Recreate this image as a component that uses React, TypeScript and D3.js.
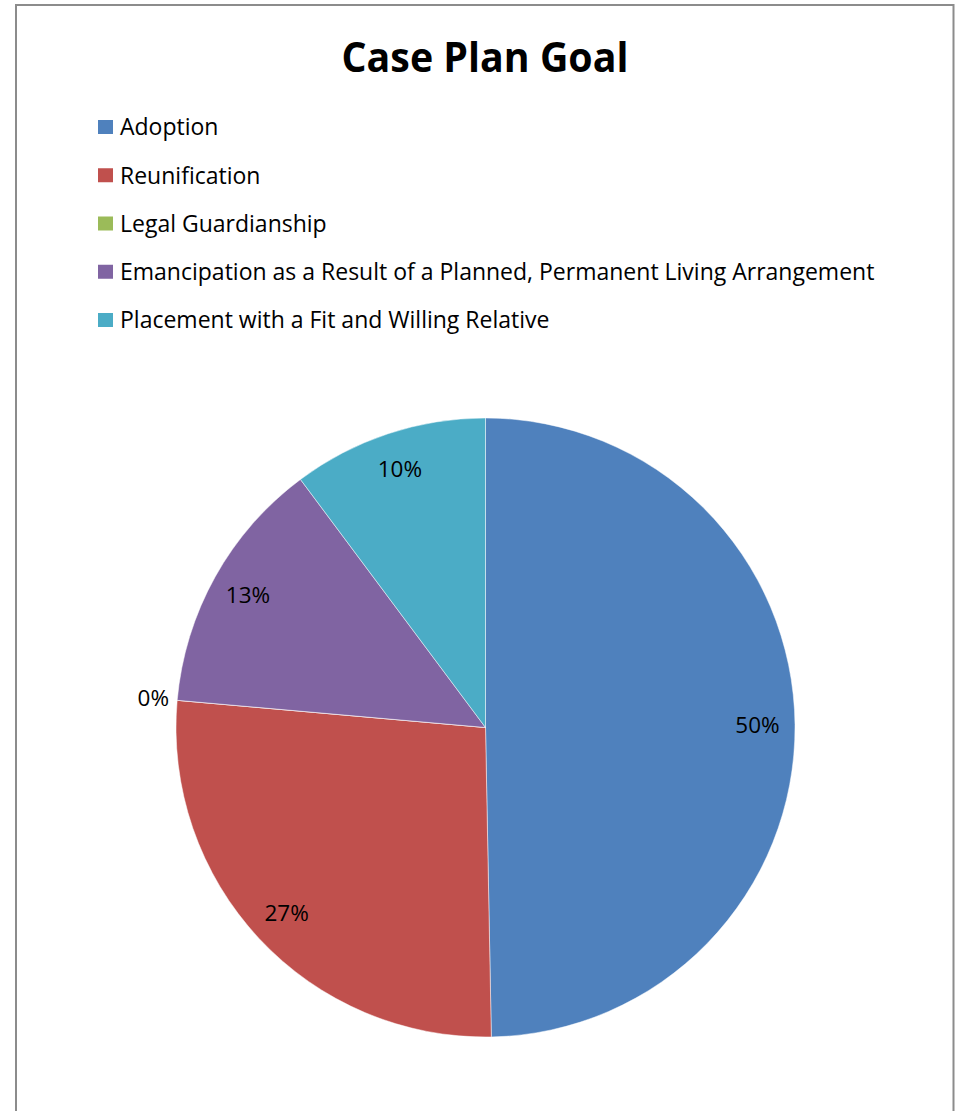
import React from "react";
import * as d3 from "d3";

const title = "Case Plan Goal";
const categories = [
  "Adoption",
  "Reunification",
  "Legal Guardianship",
  "Emancipation as a Result of a Planned, Permanent Living Arrangement",
  "Placement with a Fit and Willing Relative",
];
const shares = [49.7, 26.7, 0, 13.4, 10.2];
const colors = ["#4F81BD", "#C0504D", "#9BBB59", "#8064A2", "#4BACC6"];

const W = 959;
const H = 1111;
const FONT = "'Open Sans', 'Noto Sans', sans-serif";

export default function App() {
  const cx = 485.5;
  const cy = 727.5;
  const R = 309.5;
  const data = categories.map((c, i) => ({ name: c, value: shares[i], color: colors[i] }));
  const total = d3.sum(shares);
  const pie = d3.pie<any>().sort(null).value((d: any) => d.value);
  const arcs = pie(data);
  const arc = d3.arc<any>().innerRadius(0).outerRadius(R);
  const labelArc = d3.arc<any>().innerRadius(272).outerRadius(272);
  const outerLabelArc = d3.arc<any>().innerRadius(R + 24).outerRadius(R + 24);
  const fmt = (v: number) => `${Math.round((v / total) * 100)}%`;

  const legendY = d3.scalePoint<string>().domain(categories).range([127, 320]);

  return (
    <svg
      width={W}
      height={H}
      viewBox={`0 0 ${W} ${H}`}
      style={{ position: "absolute", left: 0, top: 0, display: "block", background: "#fff" }}
    >
      <rect x={0} y={0} width={W} height={H} fill="#fff" />
      <path d={`M16,${H + 5} V5 H953.5 V${H + 5}`} fill="none" stroke="#8c8c8c" strokeWidth={2} />
      <text
        x={485}
        y={72}
        textAnchor="middle"
        fontFamily={FONT}
        fontWeight={700}
        fontSize={41}
        textLength={287}
        lengthAdjust="spacingAndGlyphs"
        fill="#000"
      >
        {title}
      </text>
      <g>
        {categories.map((c, i) => (
          <g key={c} transform={`translate(0,${legendY(c)})`}>
            <rect x={98} y={-7} width={15} height={14} fill={colors[i]} />
            <text x={120} y={0} dy="0.36em" fontFamily={FONT} fontSize={23} fill="#000">
              {c}
            </text>
          </g>
        ))}
      </g>
      <g transform={`translate(${cx},${cy})`}>
        {arcs.map((a, i) => (
          <path key={i} d={arc(a) || ""} fill={a.data.color} stroke="#fff" strokeWidth={0.6} strokeOpacity={0.8} />
        ))}
        {arcs.map((a, i) => {
          const zero = a.data.value === 0;
          const [lx, ly] = zero ? outerLabelArc.centroid(a) : labelArc.centroid(a);
          return (
            <text
              key={"l" + i}
              x={lx}
              y={ly}
              dy="0.36em"
              textAnchor="middle"
              fontFamily={FONT}
              fontSize={22.5}
              fill="#000"
            >
              {fmt(a.data.value)}
            </text>
          );
        })}
      </g>
    </svg>
  );
}
